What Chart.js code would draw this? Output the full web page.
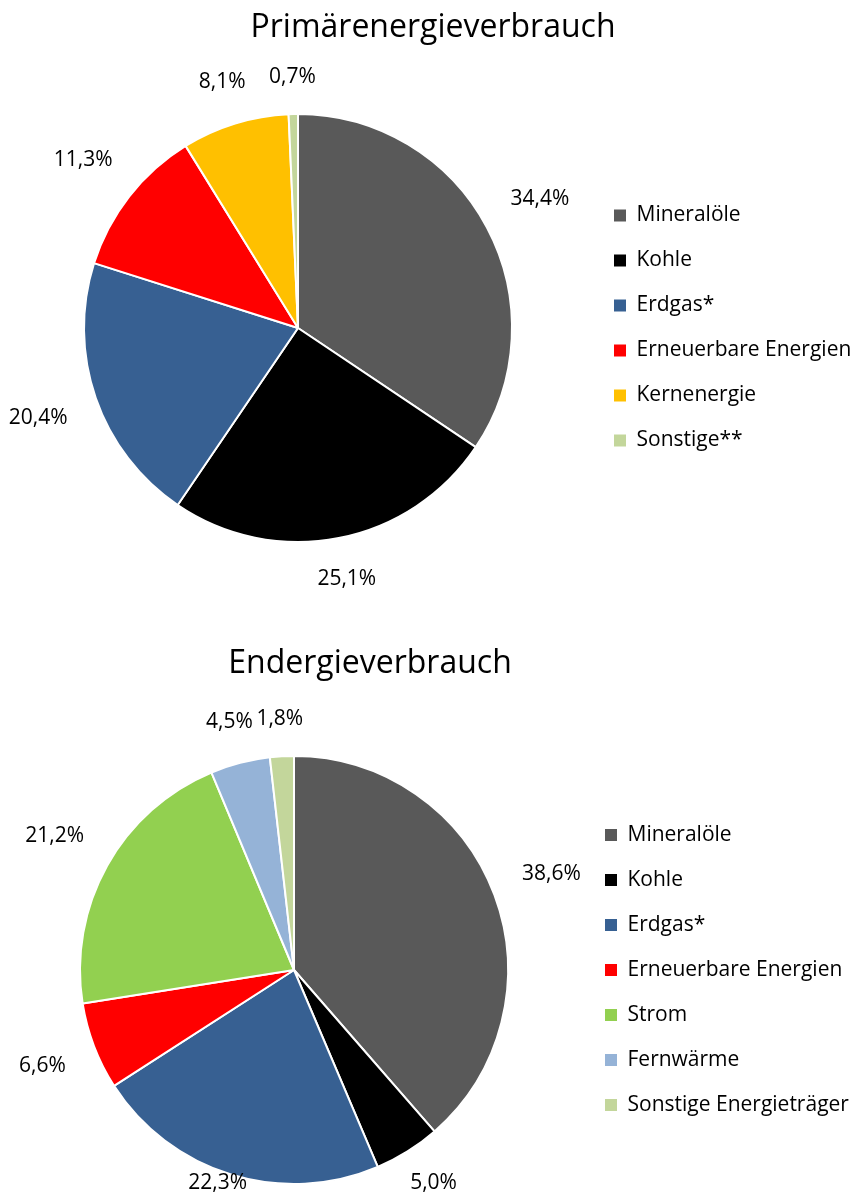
<!DOCTYPE html>
<html lang="de">
<head>
<meta charset="utf-8">
<title>Primärenergieverbrauch / Endenergieverbrauch</title>
<script src="https://cdn.jsdelivr.net/npm/chart.js@4/dist/chart.umd.min.js"></script>
<style>
  html, body { margin: 0; padding: 0; background: #fff; }
  body { position: relative; width: 852px; height: 1196px; overflow: hidden; font-family: "Open Sans", sans-serif; }
  .box { position: absolute; left: 0; width: 852px; }
  #box-primaer { top: 0; height: 600px; }
  #box-end { top: 600px; height: 596px; }
  .chart-title { position: absolute; width: 600px; margin: 0; text-align: center;
                 font-size: 32px; line-height: 37px; font-weight: normal; color: #000; }
  #title-primaer { left: 133px; top: 6px; }
  #title-end { left: 70px; top: 642px; }
</style>
</head>
<body>
<div class="box" id="box-primaer"><canvas id="primaerChart"></canvas></div>
<div class="box" id="box-end"><canvas id="endChart"></canvas></div>
<h1 class="chart-title" id="title-primaer">Primärenergieverbrauch</h1>
<h1 class="chart-title" id="title-end">Endergieverbrauch</h1>

<script>
// ===== DATA =====
const primaerLabels = ['Mineralöle', 'Kohle', 'Erdgas*', 'Erneuerbare Energien', 'Kernenergie', 'Sonstige**'];
const primaerValues = [34.4, 25.1, 20.4, 11.3, 8.1, 0.7];

const endLabels = ['Mineralöle', 'Kohle', 'Erdgas*', 'Erneuerbare Energien', 'Strom', 'Fernwärme', 'Sonstige Energieträger'];
const endValues = [38.6, 5.0, 22.3, 6.6, 21.2, 4.5, 1.8];

// ===== COLOURS =====
const colMineraloel = '#595959';
const colKohle = '#000000';
const colErdgas = '#376092';
const colErneuerbar = '#ff0000';
const colKern = '#ffc000';
const colSonstige = '#c3d69b';
const colStrom = '#92d050';
const colFernwaerme = '#95b3d7';

const primaerColors = [colMineraloel, colKohle, colErdgas, colErneuerbar, colKern, colSonstige];
const endColors = [colMineraloel, colKohle, colErdgas, colErneuerbar, colStrom, colFernwaerme, colSonstige];

Chart.defaults.font.family = '"Open Sans", sans-serif';
Chart.defaults.color = '#000';

// --- percentage labels outside each slice (along the slice's mid angle) ---
const outsideLabels = {
    id: 'outsideLabels',
    afterDatasetsDraw(chart) {
        const ctx = chart.ctx;
        const meta = chart.getDatasetMeta(0);
        const values = chart.data.datasets[0].data;
        const gap = 26, h = 20;
        ctx.save();
        ctx.font = '21px "Open Sans", sans-serif';
        ctx.fillStyle = '#000';
        ctx.textAlign = 'center';
        ctx.textBaseline = 'middle';
        meta.data.forEach((arc, i) => {
            const p = arc.getProps(['x', 'y', 'startAngle', 'endAngle', 'outerRadius'], true);
            const mid = (p.startAngle + p.endAngle) / 2;
            const cos = Math.cos(mid), sin = Math.sin(mid);
            const text = values[i].toFixed(1).replace('.', ',') + '%';
            const w = ctx.measureText(text).width;
            const d = p.outerRadius + gap + Math.abs(cos) * (w / 2 + 4) + Math.abs(sin) * h / 2;
            const x = p.x + cos * d;
            const y = Math.min(p.y + sin * d, chart.height - h / 2 - 3);
            ctx.fillText(text, x, y);
        });
        ctx.restore();
    }
};

function legendItems(chart) {
    return Chart.overrides.doughnut.plugins.legend.labels.generateLabels(chart)
        .map(item => Object.assign(item, { lineWidth: 0 }));
}

function makePie(id, labels, values, colors, layoutPad, legendWidth) {
    return new Chart(document.getElementById(id), {
        type: 'pie',
        data: {
            labels: labels,
            datasets: [{
                data: values,
                backgroundColor: colors,
                borderColor: '#ffffff',
                borderWidth: 2
            }]
        },
        options: {
            responsive: true,
            maintainAspectRatio: false,
            animation: false,
            layout: { padding: layoutPad },
            plugins: {
                legend: {
                    position: 'right',
                    fullSize: false,
                    maxWidth: legendWidth,
                    labels: {
                        color: '#000',
                        boxWidth: 12,
                        boxHeight: 12,
                        padding: 24,
                        font: { size: 21 },
                        generateLabels: legendItems
                    }
                },
                tooltip: { enabled: false }
            }
        },
        plugins: [outsideLabels]
    });
}

makePie('primaerChart', primaerLabels, primaerValues, primaerColors,
    { left: 6, right: 0, top: 113, bottom: 57 }, 262);

makePie('endChart', endLabels, endValues, endColors,
    { left: 7, right: 0, top: 155, bottom: 11 }, 271);
</script>
</body>
</html>
